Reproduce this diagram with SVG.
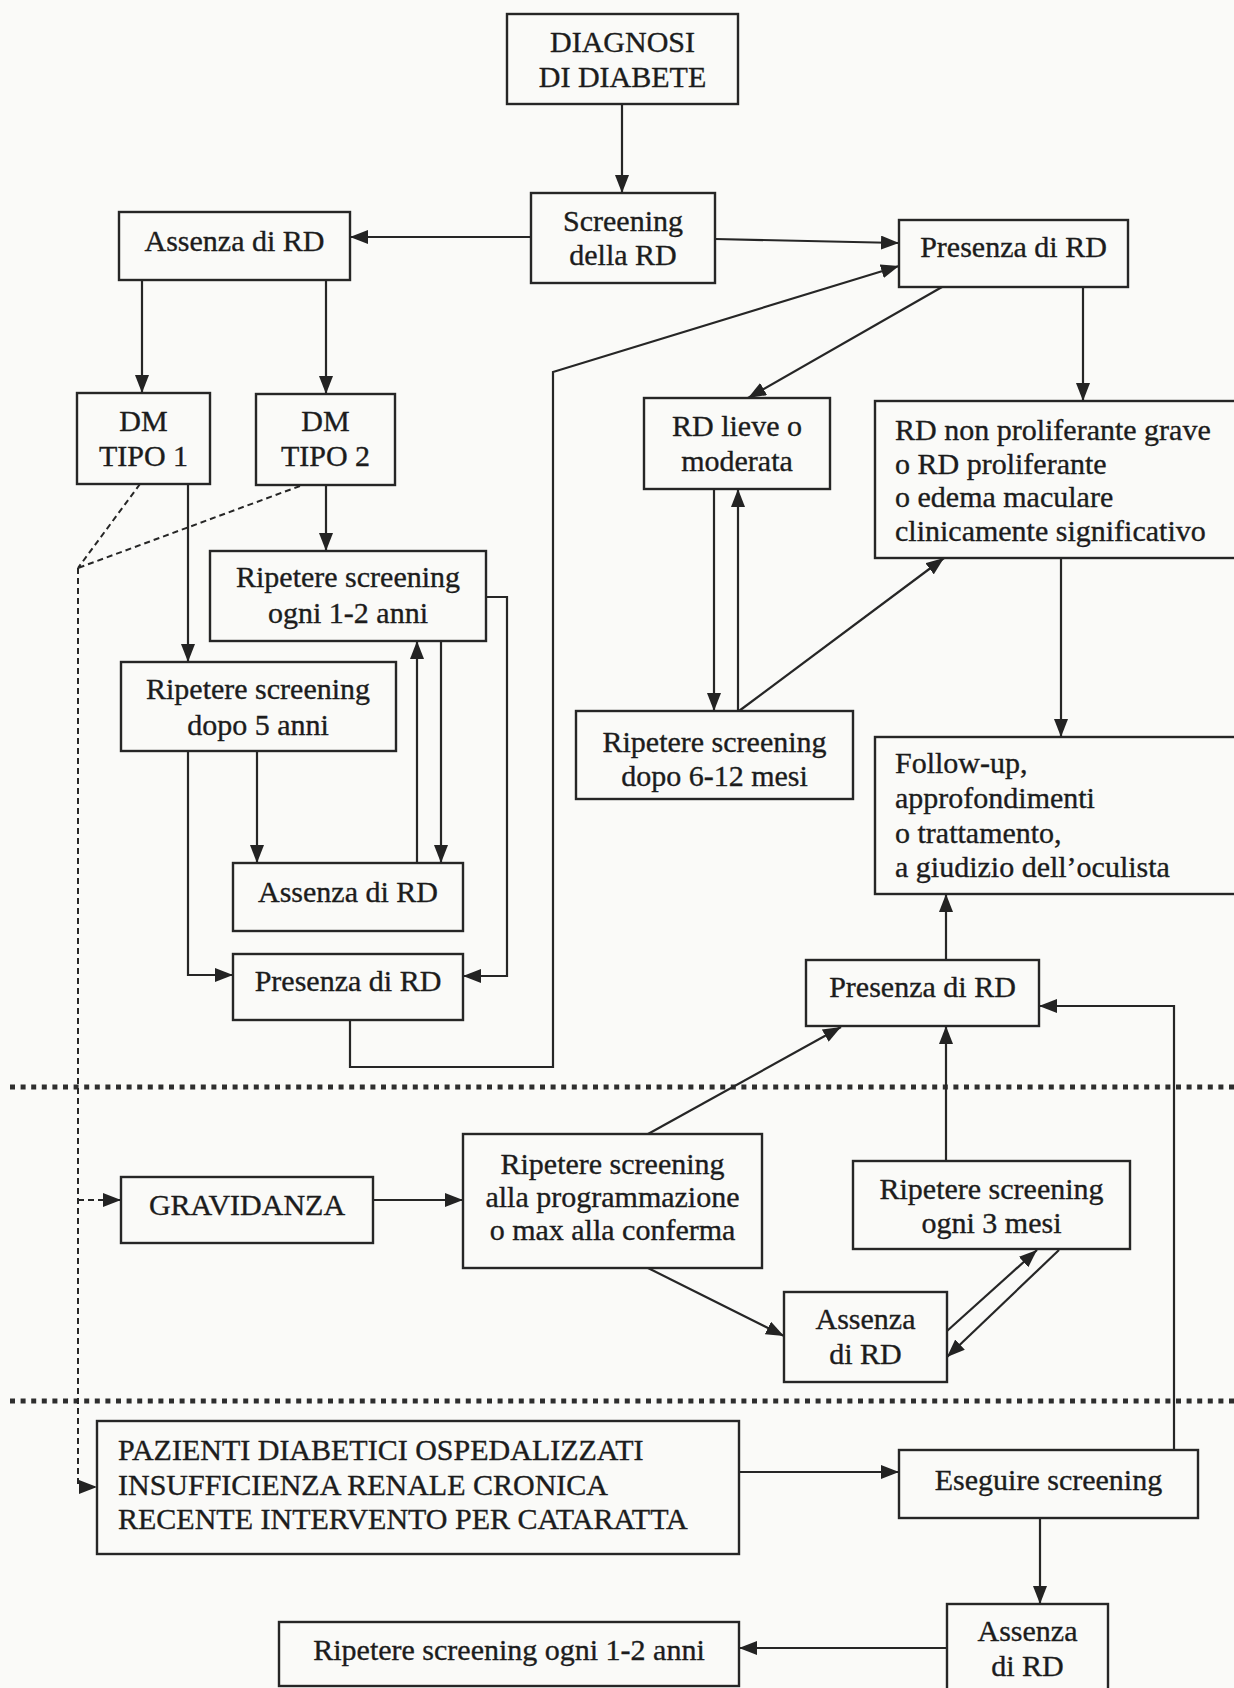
<svg xmlns="http://www.w3.org/2000/svg" width="1234" height="1688" viewBox="0 0 1234 1688">
  <defs>
    <style>
      .box { fill: none; stroke: #262626; stroke-width: 2.4; }
      .t { font-family: "Liberation Serif", "Times New Roman", serif; font-size: 30px; fill: #1c1c1c; stroke: #1c1c1c; stroke-width: 0.35; }
      .c { text-anchor: middle; }
      .l { text-anchor: start; }
      .edge { fill: none; stroke: #262626; stroke-width: 2.2; marker-end: url(#ah); }
      .dash { fill: none; stroke: #262626; stroke-width: 2; stroke-dasharray: 6 4; }
      .sep { fill: none; stroke: #2e2e2e; stroke-width: 5; stroke-dasharray: 5 5.6; }
    </style>
    <marker id="ah" viewBox="0 0 18 14" refX="18" refY="7" markerWidth="18" markerHeight="14" markerUnits="userSpaceOnUse" orient="auto">
      <path d="M0,0 L18,7 L0,14 z" fill="#232323"/>
    </marker>
  </defs>

  <rect x="0" y="0" width="1234" height="1688" fill="#fafaf8"/>

  <!-- section separators -->
  <g id="separators">
    <line class="sep" x1="10" y1="1087" x2="1234" y2="1087"/>
    <line class="sep" x1="10" y1="1401" x2="1234" y2="1401"/>
  </g>

  <!-- connectors -->
  <g id="connectors">
    <path class="edge" d="M622,104 V193"/>
    <path class="edge" d="M531,237 H350"/>
    <path class="edge" d="M715,239 L899,243"/>
    <path class="edge" d="M142,280 V393"/>
    <path class="edge" d="M326,280 V394"/>
    <path class="edge" d="M326,485 V551"/>
    <path class="edge" d="M188,484 V662"/>
    <path class="edge" d="M257,751 V863"/>
    <path class="edge" d="M188,751 V975 H233"/>
    <path class="edge" d="M441,641 V863"/>
    <path class="edge" d="M417,863 V641"/>
    <path class="edge" d="M486,597 H507 V976 H463"/>
    <path class="edge" d="M350,1020 V1067 H553 V372 L899,266"/>
    <path class="edge" d="M942,287 L748,398"/>
    <path class="edge" d="M1083,287 V401"/>
    <path class="edge" d="M714,489 V711"/>
    <path class="edge" d="M738,711 V489"/>
    <path class="edge" d="M739,711 L944,558"/>
    <path class="edge" d="M1061,558 V737"/>
    <path class="edge" d="M946,960 V894"/>
    <path class="edge" d="M373,1200 H463"/>
    <path class="edge" d="M648,1134 L841,1027"/>
    <path class="edge" d="M648,1268 L784,1336"/>
    <path class="edge" d="M946,1161 V1026"/>
    <path class="edge" d="M947,1331 L1037,1250"/>
    <path class="edge" d="M1059,1250 L947,1357"/>
    <path class="edge" d="M1174,1450 V1006 H1039"/>
    <path class="edge" d="M739,1472 H899"/>
    <path class="edge" d="M1040,1518 V1604"/>
    <path class="edge" d="M947,1648 H739"/>
    <!-- dashed routes from the diabetes types to the special groups -->
    <path class="dash" d="M140,484 L78,568"/>
    <path class="dash" d="M300,486 L78,568"/>
    <path class="dash" d="M78,568 V1487 H97" marker-end="url(#ah)"/>
    <path class="dash" d="M78,1200 H121" marker-end="url(#ah)"/>
  </g>

  <g id="diagnosi">
    <rect class="box" x="507" y="14" width="231" height="90"/>
    <text class="t c" x="622.5" y="52">DIAGNOSI</text>
    <text class="t c" x="622.5" y="87">DI DIABETE</text>
  </g>

  <g id="screening">
    <rect class="box" x="531" y="193" width="184" height="90"/>
    <text class="t c" x="623" y="231">Screening</text>
    <text class="t c" x="623" y="265">della RD</text>
  </g>

  <g id="assenza-top">
    <rect class="box" x="119" y="212" width="231" height="68"/>
    <text class="t c" x="234.5" y="251">Assenza di RD</text>
  </g>

  <g id="presenza-top">
    <rect class="box" x="899" y="220" width="229" height="67"/>
    <text class="t c" x="1013.5" y="257">Presenza di RD</text>
  </g>

  <g id="dm-tipo1">
    <rect class="box" x="77" y="393" width="133" height="91"/>
    <text class="t c" x="143.5" y="431">DM</text>
    <text class="t c" x="143.5" y="466">TIPO 1</text>
  </g>

  <g id="dm-tipo2">
    <rect class="box" x="256" y="394" width="139" height="91"/>
    <text class="t c" x="325.5" y="431">DM</text>
    <text class="t c" x="325.5" y="466">TIPO 2</text>
  </g>

  <g id="rd-lieve">
    <rect class="box" x="644" y="398" width="186" height="91"/>
    <text class="t c" x="737" y="436">RD lieve o</text>
    <text class="t c" x="737" y="471">moderata</text>
  </g>

  <g id="rd-grave">
    <rect class="box" x="875" y="401" width="370" height="157"/>
    <text class="t l" x="895" y="440">RD non proliferante grave</text>
    <text class="t l" x="895" y="474">o RD proliferante</text>
    <text class="t l" x="895" y="507">o edema maculare</text>
    <text class="t l" x="895" y="541">clinicamente significativo</text>
  </g>

  <g id="ripetere-1-2-anni">
    <rect class="box" x="210" y="551" width="276" height="90"/>
    <text class="t c" x="348" y="587">Ripetere screening</text>
    <text class="t c" x="348" y="623">ogni 1-2 anni</text>
  </g>

  <g id="ripetere-5-anni">
    <rect class="box" x="121" y="662" width="275" height="89"/>
    <text class="t c" x="258" y="699">Ripetere screening</text>
    <text class="t c" x="258" y="735">dopo 5 anni</text>
  </g>

  <g id="ripetere-6-12-mesi">
    <rect class="box" x="576" y="711" width="277" height="88"/>
    <text class="t c" x="714.5" y="752">Ripetere screening</text>
    <text class="t c" x="714.5" y="786">dopo 6-12 mesi</text>
  </g>

  <g id="follow-up">
    <rect class="box" x="875" y="737" width="370" height="157"/>
    <text class="t l" x="895" y="773">Follow-up,</text>
    <text class="t l" x="895" y="808">approfondimenti</text>
    <text class="t l" x="895" y="843">o trattamento,</text>
    <text class="t l" x="895" y="877">a giudizio dell’oculista</text>
  </g>

  <g id="assenza-mid">
    <rect class="box" x="233" y="863" width="230" height="68"/>
    <text class="t c" x="348" y="902">Assenza di RD</text>
  </g>

  <g id="presenza-mid">
    <rect class="box" x="233" y="954" width="230" height="66"/>
    <text class="t c" x="348" y="991">Presenza di RD</text>
  </g>

  <g id="presenza-low">
    <rect class="box" x="806" y="960" width="233" height="66"/>
    <text class="t c" x="922.5" y="997">Presenza di RD</text>
  </g>

  <g id="gravidanza">
    <rect class="box" x="121" y="1177" width="252" height="66"/>
    <text class="t c" x="247" y="1215">GRAVIDANZA</text>
  </g>

  <g id="ripetere-programmazione">
    <rect class="box" x="463" y="1134" width="299" height="134"/>
    <text class="t c" x="612.5" y="1174">Ripetere screening</text>
    <text class="t c" x="612.5" y="1207">alla programmazione</text>
    <text class="t c" x="612.5" y="1240">o max alla conferma</text>
  </g>

  <g id="ripetere-3-mesi">
    <rect class="box" x="853" y="1161" width="277" height="88"/>
    <text class="t c" x="991.5" y="1199">Ripetere screening</text>
    <text class="t c" x="991.5" y="1233">ogni 3 mesi</text>
  </g>

  <g id="assenza-gravidanza">
    <rect class="box" x="784" y="1292" width="163" height="90"/>
    <text class="t c" x="865.5" y="1329">Assenza</text>
    <text class="t c" x="865.5" y="1364">di RD</text>
  </g>

  <g id="pazienti">
    <rect class="box" x="97" y="1421" width="642" height="133"/>
    <text class="t l" x="118" y="1460">PAZIENTI DIABETICI OSPEDALIZZATI</text>
    <text class="t l" x="118" y="1495">INSUFFICIENZA RENALE CRONICA</text>
    <text class="t l" x="118" y="1529">RECENTE INTERVENTO PER CATARATTA</text>
  </g>

  <g id="eseguire">
    <rect class="box" x="899" y="1450" width="299" height="68"/>
    <text class="t c" x="1048.5" y="1490">Eseguire screening</text>
  </g>

  <g id="assenza-bottom">
    <rect class="box" x="947" y="1604" width="161" height="100"/>
    <text class="t c" x="1027.5" y="1641">Assenza</text>
    <text class="t c" x="1027.5" y="1676">di RD</text>
  </g>

  <g id="ripetere-bottom">
    <rect class="box" x="279" y="1622" width="460" height="64"/>
    <text class="t c" x="509" y="1660">Ripetere screening ogni 1-2 anni</text>
  </g>
</svg>
